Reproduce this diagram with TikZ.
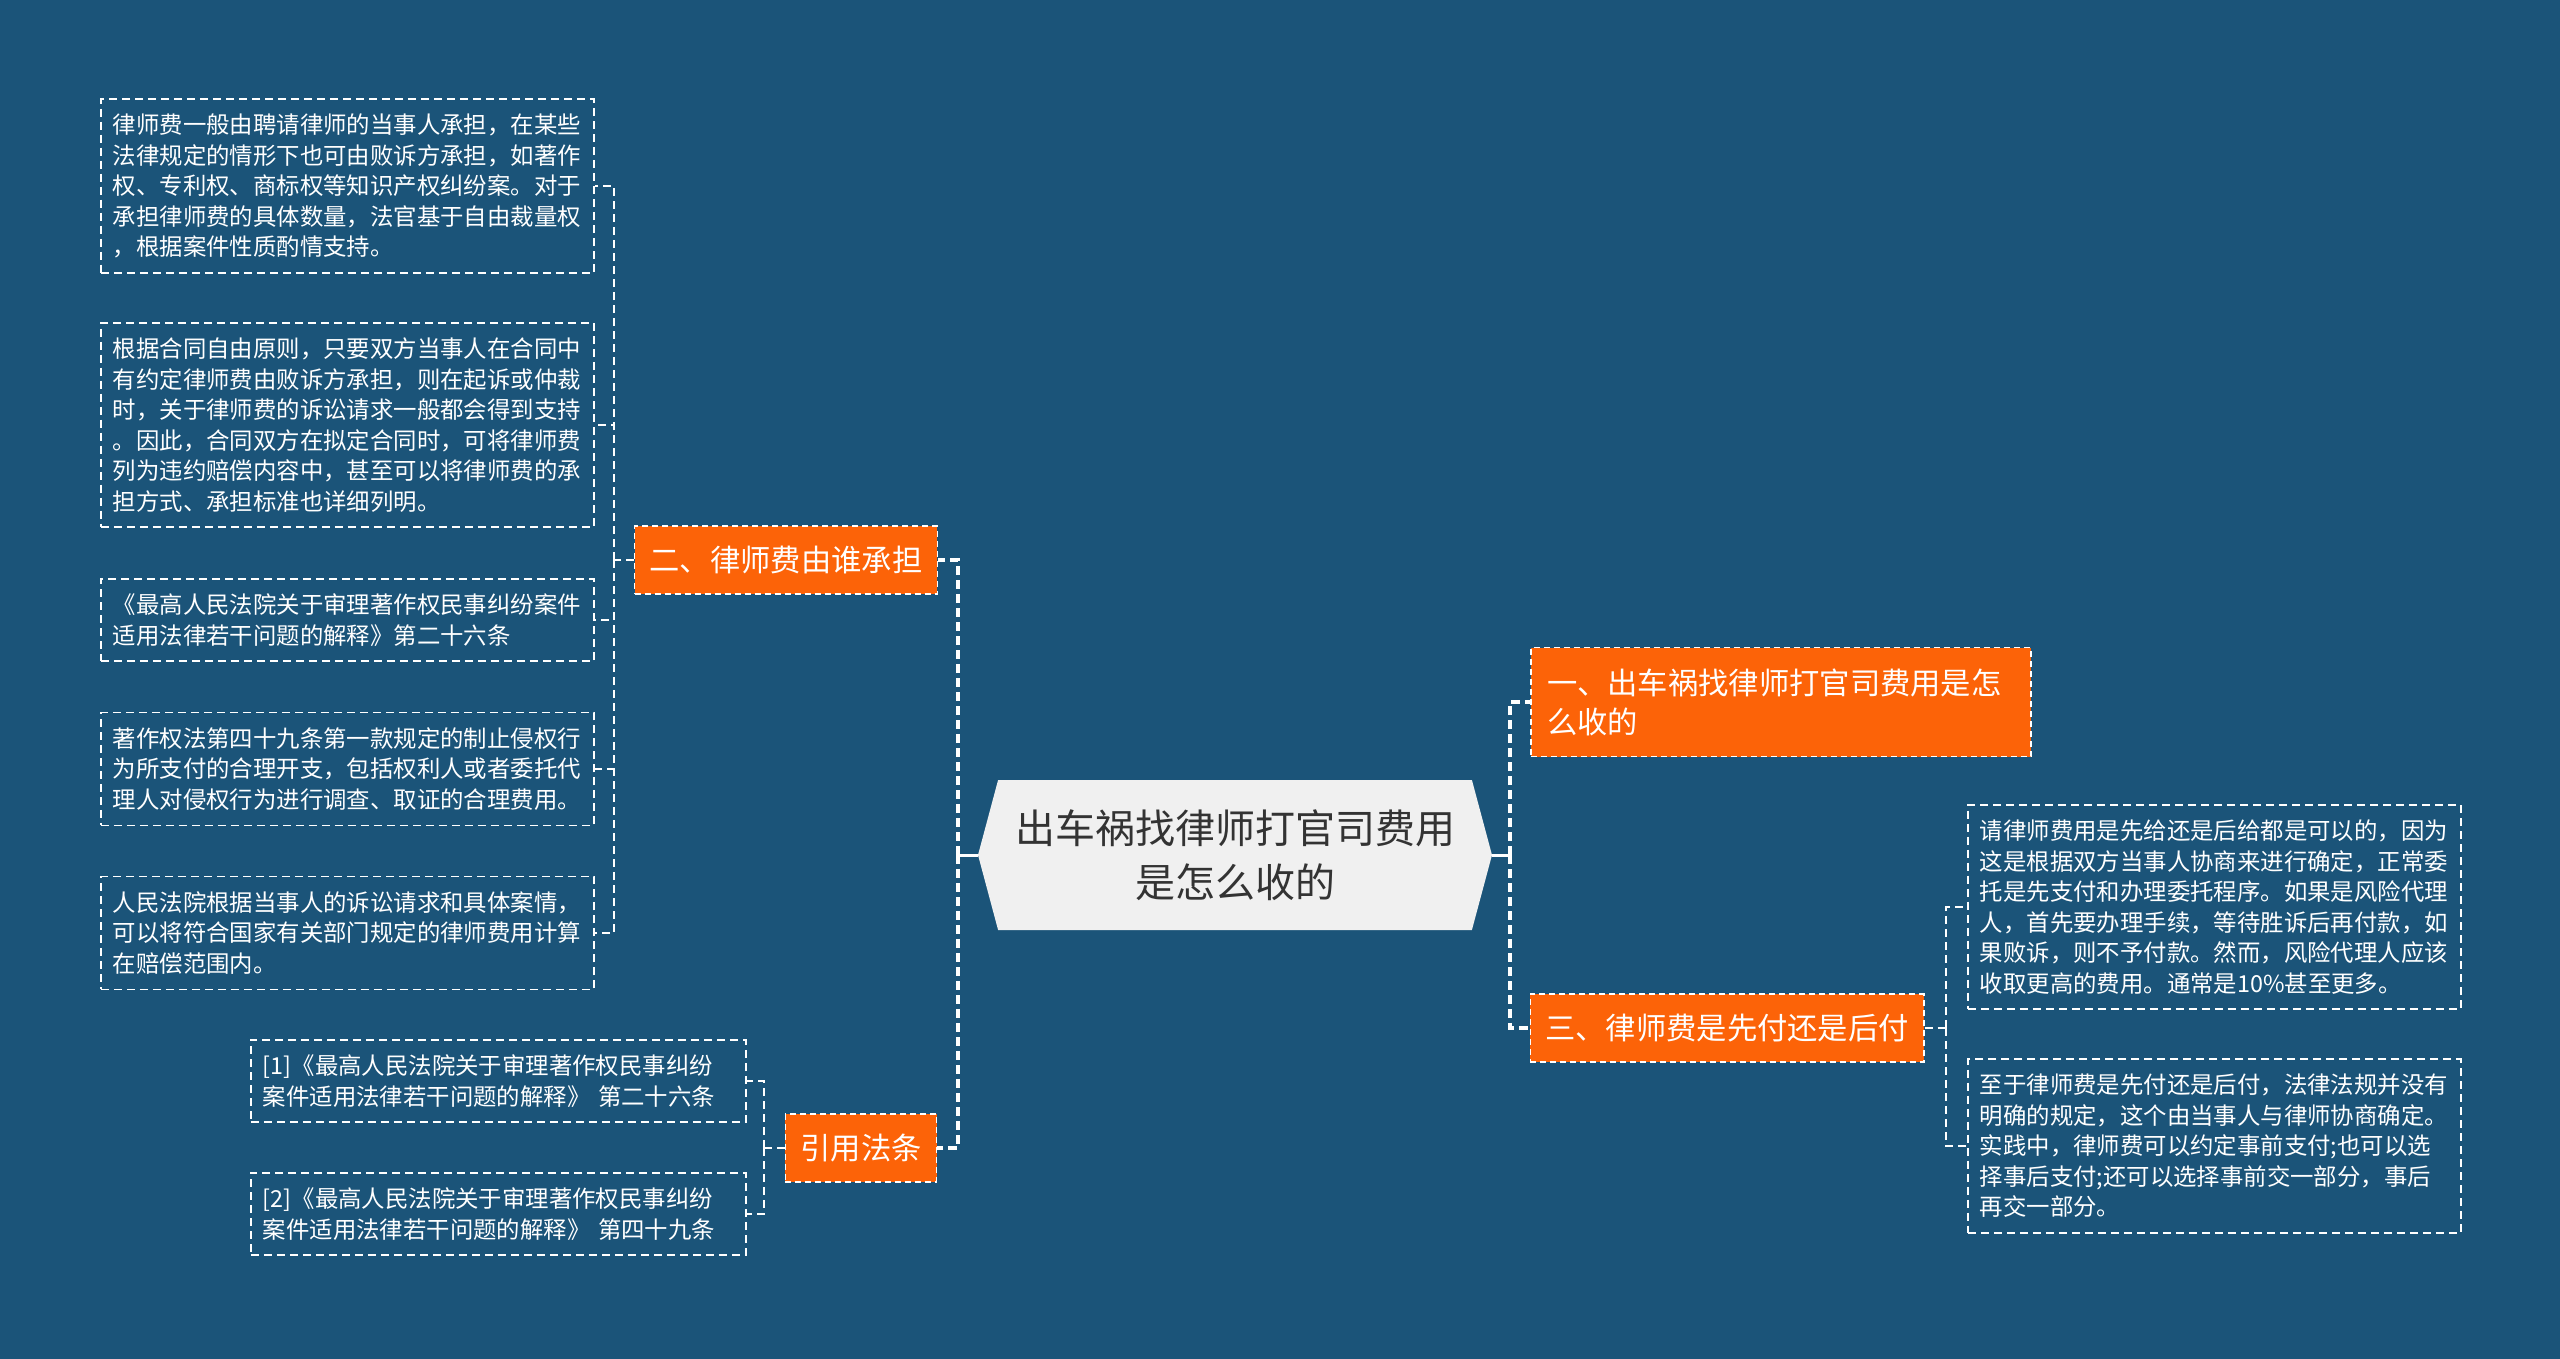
\documentclass[tikz,border=0pt]{standalone}
\usepackage{fontspec}
\setmainfont{Noto Sans CJK SC}
\usetikzlibrary{shapes.symbols}

\definecolor{lawFeeMapBackground}{RGB}{27,84,121}
\definecolor{lawFeeMapTopicFill}{RGB}{252,99,8}
\definecolor{lawFeeMapRootFill}{RGB}{240,240,240}
\definecolor{lawFeeMapRootText}{RGB}{51,51,51}
\tikzset{lawFeeMapRoot/.style={
    shape=signal,
    signal to=west and east,
    signal pointer angle=150,
    fill=lawFeeMapRootFill,
    text=lawFeeMapRootText,
    font=\fontsize{40}{54}\selectfont,
    align=center,
    minimum width=514pt,
    minimum height=150pt,
    inner sep=0pt,
  }
}
\tikzset{lawFeeMapTopic/.style={
    fill=lawFeeMapTopicFill,
    draw=white,
    line width=1.4pt,
    dash pattern=on 6pt off 4pt,
    text=white,
    font=\fontsize{30.3}{39}\selectfont,
    inner xsep=15pt,
    minimum height=68pt,
  }
}
\tikzset{lawFeeMapLeaf/.style={
    draw=white,
    line width=1.6pt,
    dash pattern=on 8pt off 5pt,
    text=white,
    font=\fontsize{23.4}{30.5}\selectfont,
    align=left,
    text width=469pt,
    inner xsep=12pt,
    inner ysep=15pt,
  }
}
\tikzset{lawFeeMapStem/.style={
    draw=white,
    line width=3pt,
  }
}
\tikzset{lawFeeMapTrunk/.style={
    draw=white,
    line width=3.5pt,
    dash pattern=on 9pt off 5pt,
  }
}
\tikzset{lawFeeMapBranch/.style={
    draw=white,
    line width=1.6pt,
    dash pattern=on 8pt off 5pt,
  }
}
\newcommand{\lawFeeMapDefineSizeClip}{
  \fill[lawFeeMapBackground] (0,0) rectangle (2560,1359);
  \useasboundingbox (0,0) rectangle (2560,1359);
}
\newcommand{\lawFeeMapDrawNodes}{
  \node [anchor = center, lawFeeMapRoot] (root)
  at (1235, 855) {出车祸找律师打官司费用\\是怎么收的};
  \coordinate (rootLeft) at (958, 855);
  \coordinate (rootRight) at (1510, 855);
  % left side
  \node [anchor = center, lawFeeMapTopic] (who)
  at (786, 560) {二、律师费由谁承担};
  \node [anchor = center, lawFeeMapTopic] (cite)
  at (861, 1148) {引用法条};
  \coordinate (whoFork) at (614, 560);
  \coordinate (citeFork) at (764, 1148);
  \node [anchor = west, lawFeeMapLeaf] (whoA)
  at (100, 186) {律师费一般由聘请律师的当事人承担，在某些\\法律规定的情形下也可由败诉方承担，如著作\\权、专利权、商标权等知识产权纠纷案。对于\\承担律师费的具体数量，法官基于自由裁量权\\，根据案件性质酌情支持。};
  \node [anchor = west, lawFeeMapLeaf] (whoB)
  at (100, 425) {根据合同自由原则，只要双方当事人在合同中\\有约定律师费由败诉方承担，则在起诉或仲裁\\时，关于律师费的诉讼请求一般都会得到支持\\。因此，合同双方在拟定合同时，可将律师费\\列为违约赔偿内容中，甚至可以将律师费的承\\担方式、承担标准也详细列明。};
  \node [anchor = west, lawFeeMapLeaf] (whoC)
  at (100, 620) {《最高人民法院关于审理著作权民事纠纷案件\\适用法律若干问题的解释》第二十六条};
  \node [anchor = west, lawFeeMapLeaf] (whoD)
  at (100, 769) {著作权法第四十九条第一款规定的制止侵权行\\为所支付的合理开支，包括权利人或者委托代\\理人对侵权行为进行调查、取证的合理费用。};
  \node [anchor = west, lawFeeMapLeaf] (whoE)
  at (100, 933) {人民法院根据当事人的诉讼请求和具体案情，\\可以将符合国家有关部门规定的律师费用计算\\在赔偿范围内。};
  \node [anchor = west, lawFeeMapLeaf, text width=471pt] (citeA)
  at (250, 1081) {[1]《最高人民法院关于审理著作权民事纠纷\\案件适用法律若干问题的解释》 第二十六条};
  \node [anchor = west, lawFeeMapLeaf, text width=471pt] (citeB)
  at (250, 1214) {[2]《最高人民法院关于审理著作权民事纠纷\\案件适用法律若干问题的解释》 第四十九条};
  % right side
  \node [anchor = center, lawFeeMapTopic, align=left, text width=468pt,
    inner xsep=16pt, minimum height=109pt] (how)
  at (1781, 702) {一、出车祸找律师打官司费用是怎\\么收的};
  \node [anchor = center, lawFeeMapTopic] (when)
  at (1727, 1028) {三、律师费是先付还是后付};
  \coordinate (whenFork) at (1946, 1028);
  \node [anchor = west, lawFeeMapLeaf] (whenA)
  at (1967, 907) {请律师费用是先给还是后给都是可以的，因为\\这是根据双方当事人协商来进行确定，正常委\\托是先支付和办理委托程序。如果是风险代理\\人，首先要办理手续，等待胜诉后再付款，如\\果败诉，则不予付款。然而，风险代理人应该\\收取更高的费用。通常是10\%甚至更多。};
  \node [anchor = west, lawFeeMapLeaf] (whenB)
  at (1967, 1146) {至于律师费是先付还是后付，法律法规并没有\\明确的规定，这个由当事人与律师协商确定。\\实践中，律师费可以约定事前支付;也可以选\\择事后支付;还可以选择事前交一部分，事后\\再交一部分。};
}
\newcommand{\lawFeeMapConnectNodes}{
  \draw[lawFeeMapStem] (root.west) -- (rootLeft);
  \draw[lawFeeMapStem] (root.east) -- (rootRight);
  \draw[lawFeeMapTrunk] (rootLeft) |- (who.east);
  \draw[lawFeeMapTrunk] (rootLeft) |- (cite.east);
  \draw[lawFeeMapTrunk] (rootRight) |- (how.west);
  \draw[lawFeeMapTrunk] (rootRight) |- (when.west);
  \draw[lawFeeMapBranch] (who.west) -- (whoFork);
  \foreach \leaf in {whoA, whoB, whoC, whoD, whoE}
    \draw[lawFeeMapBranch] (whoFork) |- (\leaf.east);
  \draw[lawFeeMapBranch] (cite.west) -- (citeFork);
  \foreach \leaf in {citeA, citeB}
    \draw[lawFeeMapBranch] (citeFork) |- (\leaf.east);
  \draw[lawFeeMapBranch] (when.east) -- (whenFork);
  \foreach \leaf in {whenA, whenB}
    \draw[lawFeeMapBranch] (whenFork) |- (\leaf.west);
}

\begin{document}
\begin{tikzpicture}[x=1pt, y=-1pt]
  \lawFeeMapDefineSizeClip
  \lawFeeMapDrawNodes
  \lawFeeMapConnectNodes
\end{tikzpicture}
\end{document}
